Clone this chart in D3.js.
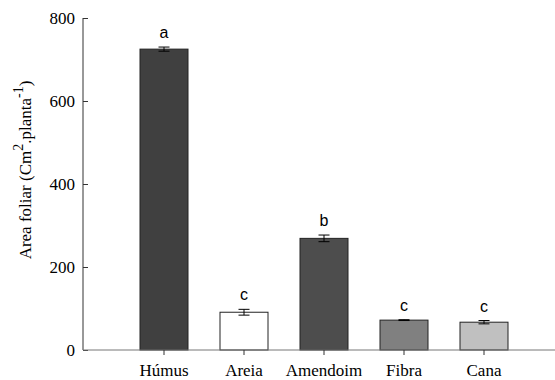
<!DOCTYPE html>
<html lang="pt">
  <head>
    <meta charset='UTF-8'>
    <title>Area foliar</title>
    <script src="https://d3js.org/d3.v7.min.js"></script>
    <style>
      body { margin: 0; background: #fff; }
      .tick text { font-family: "Liberation Serif", "Times New Roman", serif; font-size: 17px; fill: #000; }
    </style>
  </head>
  <body>
    <svg id="chart" width="555" height="380"></svg>
    <script>
    // values
    var categories = ["Húmus", "Areia", "Amendoim", "Fibra", "Cana"];
    var values = [725, 91, 269, 72, 67];
    var errors = [5, 7, 8, 1, 4];
    var letters = ["a", "c", "b", "c", "c"];
    var fills = ["#404040", "#ffffff", "#4d4d4d", "#808080", "#c0c0c0"];
    var yTicks = [0, 200, 400, 600, 800];

    var svg = d3.select("#chart");
    var x0 = 83, y0 = 350;

    var xs = d3.scaleBand().domain(categories).range([124, 524]).paddingInner(0.4).paddingOuter(0.2);
    var ys = d3.scaleLinear().domain([0, 800]).range([y0, 18]);

    // bars
    svg.append("g").selectAll("rect")
      .data(categories)
      .enter()
      .append("rect")
        .attr("x", function(d) { return xs(d); })
        .attr("y", function(d, i) { return ys(values[i]); })
        .attr("width", xs.bandwidth())
        .attr("height", function(d, i) { return y0 - ys(values[i]); })
        .style("fill", function(d, i) { return fills[i]; })
        .style("stroke", "#222")
        .style("stroke-width", 1);

    // error bars
    var eb = svg.append("g").selectAll("g.err")
      .data(categories)
      .enter()
      .append("g")
        .attr("class", "err")
        .attr("transform", function(d) { return "translate(" + (xs(d) + xs.bandwidth() / 2) + ",0)"; });
    eb.append("line")
      .attr("x1", 0).attr("x2", 0)
      .attr("y1", function(d, i) { return ys(values[i] + errors[i]); })
      .attr("y2", function(d, i) { return ys(values[i] - errors[i]); })
      .style("stroke", "#000");
    eb.append("line")
      .attr("x1", -5.5).attr("x2", 5.5)
      .attr("y1", function(d, i) { return ys(values[i] + errors[i]); })
      .attr("y2", function(d, i) { return ys(values[i] + errors[i]); })
      .style("stroke", "#000");
    eb.append("line")
      .attr("x1", -5.5).attr("x2", 5.5)
      .attr("y1", function(d, i) { return ys(values[i] - errors[i]); })
      .attr("y2", function(d, i) { return ys(values[i] - errors[i]); })
      .style("stroke", "#000");

    // significance letters
    svg.append("g").selectAll("text")
      .data(categories)
      .enter()
      .append("text")
        .attr("x", function(d) { return xs(d) + xs.bandwidth() / 2; })
        .attr("y", function(d, i) { return ys(values[i] + errors[i]) - 9; })
        .attr("text-anchor", "middle")
        .style("font-family", "Arial, 'Liberation Sans', sans-serif")
        .style("font-size", "16px")
        .text(function(d, i) { return letters[i]; });

    // y axis
    var yAxis = svg.append("g")
      .attr("transform", "translate(" + x0 + ",0)")
      .call(d3.axisRight(ys).tickValues(yTicks).tickSize(5).tickFormat(d3.format("d")));
    yAxis.select(".domain").attr("d", "M0," + ys(800) + "V" + y0).style("stroke", "#333");
    yAxis.selectAll(".tick line").style("stroke", "#333");
    yAxis.selectAll(".tick text").attr("x", -8).attr("text-anchor", "end").attr("dy", "0.35em");

    // x axis
    var xAxis = svg.append("g")
      .attr("transform", "translate(0," + y0 + ")")
      .call(d3.axisBottom(xs).tickSize(5).tickSizeOuter(0));
    xAxis.select(".domain").attr("d", "M" + x0 + ",0H555").style("stroke", "#777");
    xAxis.selectAll(".tick line").style("stroke", "#333");
    xAxis.selectAll(".tick text").attr("y", 14);

    // y label
    var yl = svg.append("text")
      .attr("transform", "translate(31,170) rotate(-90)")
      .attr("text-anchor", "middle")
      .style("font-family", "'Liberation Serif', 'Times New Roman', serif")
      .style("font-size", "17px");
    yl.append("tspan").text("Area foliar (Cm");
    yl.append("tspan").attr("dy", -8).style("font-size", "14px").text("2");
    yl.append("tspan").attr("dy", 8).text(".planta");
    yl.append("tspan").attr("dy", -8).style("font-size", "14px").text("-1");
    yl.append("tspan").attr("dy", 8).text(")");
    </script>
  </body>
</html>
